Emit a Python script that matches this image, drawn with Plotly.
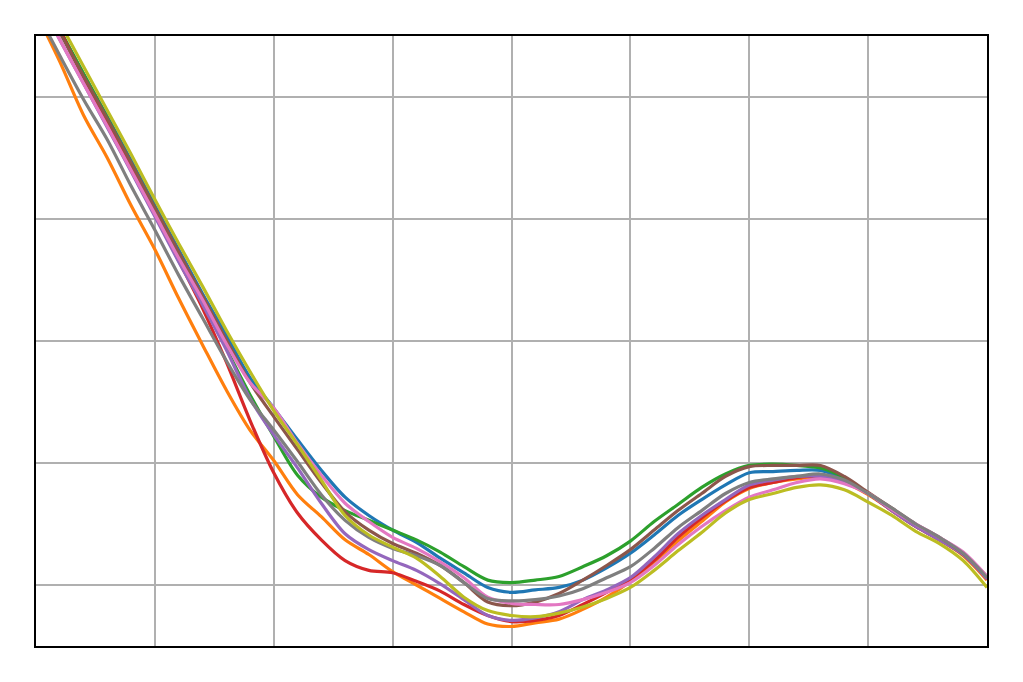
import numpy as np
import plotly.graph_objects as go

x = [round(0.2 * i, 1) for i in range(41)]

series_blue = [4.91, 4.55, 4.19, 3.84, 3.48, 3.11, 2.75, 2.39, 2.05, 1.70, 1.45, 1.19, 0.94, 0.72, 0.57, 0.45, 0.35, 0.22, 0.10, -0.02, -0.06, -0.04, -0.02, 0.04, 0.14, 0.26, 0.41, 0.57, 0.70, 0.82, 0.92, 0.93, 0.94, 0.94, 0.87, 0.75, 0.62, 0.49, 0.38, 0.25, 0.06]
series_orange = [4.69, 4.29, 3.85, 3.50, 3.11, 2.75, 2.35, 1.97, 1.60, 1.27, 1.02, 0.74, 0.56, 0.37, 0.25, 0.11, 0.00, -0.11, -0.22, -0.32, -0.34, -0.31, -0.28, -0.20, -0.10, 0.03, 0.19, 0.36, 0.52, 0.68, 0.79, 0.84, 0.87, 0.88, 0.84, 0.74, 0.61, 0.48, 0.37, 0.24, 0.04]
series_green = [4.91, 4.55, 4.19, 3.83, 3.46, 3.09, 2.72, 2.35, 1.94, 1.56, 1.22, 0.90, 0.72, 0.61, 0.53, 0.45, 0.37, 0.27, 0.15, 0.04, 0.02, 0.04, 0.07, 0.15, 0.24, 0.36, 0.52, 0.66, 0.80, 0.91, 0.98, 0.99, 0.98, 0.96, 0.88, 0.75, 0.62, 0.49, 0.38, 0.25, 0.06]
series_red = [4.96, 4.55, 4.16, 3.80, 3.42, 3.05, 2.66, 2.27, 1.83, 1.35, 0.92, 0.59, 0.37, 0.20, 0.12, 0.10, 0.03, -0.05, -0.16, -0.25, -0.30, -0.29, -0.25, -0.16, -0.06, 0.05, 0.20, 0.39, 0.55, 0.69, 0.80, 0.84, 0.88, 0.89, 0.84, 0.75, 0.61, 0.48, 0.37, 0.25, 0.05]
series_purple = [4.84, 4.47, 4.11, 3.75, 3.39, 3.02, 2.65, 2.30, 1.93, 1.53, 1.23, 0.96, 0.67, 0.42, 0.29, 0.20, 0.12, 0.01, -0.12, -0.25, -0.29, -0.27, -0.22, -0.12, -0.04, 0.06, 0.23, 0.42, 0.57, 0.70, 0.82, 0.86, 0.89, 0.89, 0.84, 0.75, 0.61, 0.48, 0.37, 0.25, 0.05]
series_brown = [4.89, 4.53, 4.17, 3.82, 3.46, 3.09, 2.73, 2.37, 2.01, 1.66, 1.38, 1.11, 0.84, 0.60, 0.45, 0.34, 0.26, 0.16, 0.02, -0.14, -0.17, -0.14, -0.07, 0.04, 0.16, 0.29, 0.45, 0.61, 0.75, 0.89, 0.97, 0.98, 0.98, 0.98, 0.89, 0.76, 0.63, 0.50, 0.39, 0.26, 0.07]
series_pink = [4.84, 4.47, 4.11, 3.76, 3.40, 3.04, 2.68, 2.34, 1.98, 1.66, 1.45, 1.16, 0.90, 0.67, 0.52, 0.39, 0.30, 0.19, 0.06, -0.10, -0.15, -0.16, -0.16, -0.12, -0.06, 0.02, 0.16, 0.33, 0.48, 0.61, 0.72, 0.78, 0.84, 0.87, 0.83, 0.75, 0.62, 0.50, 0.39, 0.27, 0.07]
series_gray = [4.71, 4.34, 3.98, 3.65, 3.27, 2.91, 2.54, 2.19, 1.84, 1.52, 1.27, 1.01, 0.74, 0.53, 0.39, 0.30, 0.24, 0.16, 0.02, -0.11, -0.13, -0.12, -0.09, -0.03, 0.06, 0.15, 0.30, 0.47, 0.61, 0.75, 0.84, 0.87, 0.89, 0.91, 0.86, 0.75, 0.63, 0.50, 0.39, 0.26, 0.06]
series_olive = [4.97, 4.61, 4.25, 3.89, 3.53, 3.16, 2.80, 2.45, 2.09, 1.75, 1.43, 1.15, 0.86, 0.57, 0.41, 0.31, 0.22, 0.07, -0.10, -0.21, -0.25, -0.26, -0.23, -0.18, -0.11, -0.02, 0.12, 0.28, 0.43, 0.59, 0.70, 0.75, 0.80, 0.82, 0.78, 0.68, 0.57, 0.44, 0.34, 0.20, -0.02]

series = [
    ("blue", series_blue, "#1f77b4"),
    ("orange", series_orange, "#ff7f0e"),
    ("green", series_green, "#2ca02c"),
    ("red", series_red, "#d62728"),
    ("purple", series_purple, "#9467bd"),
    ("brown", series_brown, "#8c564b"),
    ("pink", series_pink, "#e377c2"),
    ("gray", series_gray, "#7f7f7f"),
    ("olive", series_olive, "#bcbd22"),
]

fig = go.Figure()
for name, ys, color in series:
    fig.add_trace(go.Scatter(x=x, y=ys, mode="lines", name=name,
                             line=dict(color=color, width=3.2, shape="spline", smoothing=0.9)))

axis_common = dict(showgrid=True, gridcolor="#b0b0b0", gridwidth=1.5,
                   showticklabels=False, ticks="", zeroline=False,
                   showline=True, linecolor="black", linewidth=1.5, mirror=True, dtick=1)
fig.update_layout(
    width=1007, height=666,
    margin=dict(l=28, r=28, t=28, b=28),
    paper_bgcolor="white", plot_bgcolor="white",
    showlegend=False,
    xaxis=dict(range=[0, 8], tick0=0, **axis_common),
    yaxis=dict(range=[-0.5, 4.5], tick0=0, **axis_common),
)
fig.write_html("out.html")
